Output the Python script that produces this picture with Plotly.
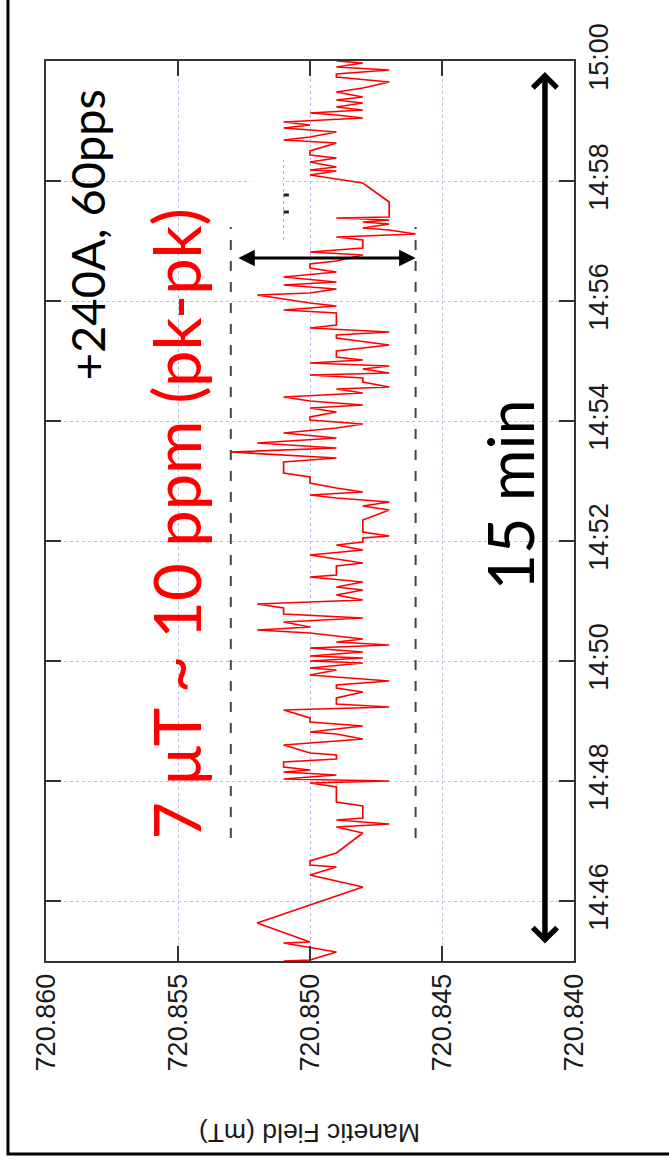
import plotly.graph_objects as go

DAY = "2000-01-01 "

# Magnetometer readings: sample time and field value (mT)
times = [
    "14:45:00", "14:45:01", "14:45:09", "14:45:18", "14:45:19", "14:45:38", "14:46:14", "14:46:26",
    "14:46:34", "14:46:36", "14:46:40", "14:46:48", "14:47:08", "14:47:14", "14:47:17", "14:47:21",
    "14:47:23", "14:47:35", "14:47:39", "14:47:54", "14:47:58", "14:48:00", "14:48:02", "14:48:06",
    "14:48:09", "14:48:11", "14:48:14", "14:48:19", "14:48:22", "14:48:26", "14:48:28", "14:48:36",
    "14:48:38", "14:48:42", "14:48:47", "14:48:49", "14:48:55", "14:48:59", "14:49:03", "14:49:11",
    "14:49:14", "14:49:17", "14:49:23", "14:49:29", "14:49:33", "14:49:36", "14:49:40", "14:49:46",
    "14:49:51", "14:49:53", "14:49:58", "14:50:00", "14:50:03", "14:50:05", "14:50:09", "14:50:13",
    "14:50:16", "14:50:19", "14:50:22", "14:50:28", "14:50:31", "14:50:34", "14:50:39", "14:50:43",
    "14:50:47", "14:50:53", "14:50:57", "14:51:01", "14:51:06", "14:51:11", "14:51:14", "14:51:19",
    "14:51:24", "14:51:26", "14:51:35", "14:51:38", "14:51:46", "14:51:51", "14:51:56", "14:51:59",
    "14:52:03", "14:52:05", "14:52:09", "14:52:21", "14:52:31", "14:52:35", "14:52:39", "14:52:43",
    "14:52:46", "14:52:49", "14:52:53", "14:52:58", "14:53:04", "14:53:08", "14:53:19", "14:53:23",
    "14:53:29", "14:53:33", "14:53:38", "14:53:43", "14:53:48", "14:53:53", "14:53:57", "14:54:01",
    "14:54:04", "14:54:09", "14:54:13", "14:54:16", "14:54:20", "14:54:24", "14:54:28", "14:54:32",
    "14:54:34", "14:54:39", "14:54:43", "14:54:46", "14:54:48", "14:54:52", "14:54:55", "14:54:58",
    "14:55:01", "14:55:04", "14:55:10", "14:55:16", "14:55:23", "14:55:26", "14:55:29", "14:55:33",
    "14:55:36", "14:55:48", "14:55:51", "14:55:55", "14:55:58", "14:56:06", "14:56:08", "14:56:12",
    "14:56:16", "14:56:19", "14:56:24", "14:56:29", "14:56:33", "14:56:37", "14:56:40", "14:56:46",
    "14:56:49", "14:56:53", "14:57:01", "14:57:04", "14:57:07", "14:57:11", "14:57:13", "14:57:17",
    "14:57:19", "14:57:21", "14:57:23", "14:57:24", "14:57:39", "14:57:58", "14:58:02", "14:58:06",
    "14:58:10", "14:58:11", "14:58:14", "14:58:19", "14:58:23", "14:58:26", "14:58:30", "14:58:38",
    "14:58:41", "14:58:44", "14:58:49", "14:58:53", "14:58:56", "14:58:59", "14:59:03", "14:59:06",
    "14:59:08", "14:59:11", "14:59:14", "14:59:18", "14:59:21", "14:59:24", "14:59:29", "14:59:33",
    "14:59:39", "14:59:44", "14:59:47", "14:59:51", "14:59:54", "14:59:58", "15:00:00",
]
field_mT = [
    720.851, 720.850, 720.849, 720.851, 720.850, 720.852, 720.848, 720.850,
    720.849, 720.850, 720.850, 720.849, 720.848, 720.849, 720.847, 720.849,
    720.848, 720.848, 720.849, 720.849, 720.850, 720.847, 720.851, 720.849,
    720.851, 720.850, 720.851, 720.851, 720.849, 720.849, 720.850, 720.851,
    720.850, 720.848, 720.849, 720.850, 720.848, 720.850, 720.850, 720.851,
    720.847, 720.849, 720.849, 720.848, 720.849, 720.849, 720.847, 720.850,
    720.849, 720.850, 720.848, 720.850, 720.848, 720.850, 720.848, 720.850,
    720.847, 720.849, 720.848, 720.850, 720.852, 720.850, 720.851, 720.848,
    720.851, 720.851, 720.852, 720.848, 720.849, 720.848, 720.849, 720.848,
    720.850, 720.849, 720.849, 720.848, 720.850, 720.848, 720.849, 720.848,
    720.848, 720.847, 720.848, 720.848, 720.847, 720.848, 720.847, 720.849,
    720.850, 720.848, 720.849, 720.850, 720.850, 720.851, 720.851, 720.849,
    720.853, 720.849, 720.852, 720.849, 720.851, 720.849, 720.848, 720.850,
    720.850, 720.849, 720.850, 720.848, 720.850, 720.851, 720.848, 720.849,
    720.847, 720.848, 720.848, 720.850, 720.847, 720.848, 720.847, 720.850,
    720.848, 720.849, 720.849, 720.847, 720.849, 720.849, 720.847, 720.850,
    720.849, 720.849, 720.851, 720.849, 720.850, 720.852, 720.850, 720.849,
    720.851, 720.849, 720.851, 720.849, 720.850, 720.850, 720.849, 720.848,
    720.850, 720.848, 720.848, 720.849, 720.846, 720.847, 720.848, 720.847,
    720.848, 720.847, 720.849, 720.847, 720.847, 720.848, 720.849, 720.850,
    720.849, 720.850, 720.849, 720.850, 720.849, 720.850, 720.850, 720.849,
    720.851, 720.850, 720.849, 720.851, 720.850, 720.851, 720.848, 720.849,
    720.850, 720.848, 720.849, 720.848, 720.849, 720.848, 720.849, 720.848,
    720.847, 720.849, 720.849, 720.847, 720.849, 720.848, 720.849,
]

field_ticks = [720.860, 720.855, 720.850, 720.845, 720.840]
field_tick_labels = ["720.860", "720.855", "720.850", "720.845", "720.840"]
time_tick_labels = ["14:46", "14:48", "14:50", "14:52", "14:54", "14:56", "14:58", "15:00"]
time_start, time_end = "14:45:00", "15:00:00"

# peak-to-peak band markers
band_high, band_low = 720.853, 720.846
band_from, band_to = "14:47:03", "14:57:14"
band_arrow_time = "14:56:43"

# full-span arrow
span_x = 720.8411
span_from, span_to = "14:45:16", "14:59:49"

FONT = "Liberation Sans, Arial, sans-serif"
TEXT_FONT = "Lato, Open Sans, sans-serif"

t_full = [DAY + t for t in times]

fig = go.Figure()
fig.add_trace(go.Scatter(
    x=field_mT, y=t_full, mode="lines",
    line=dict(color="#ff0000", width=1.7),
    showlegend=False, hoverinfo="skip",
))

shapes = []
# dashed band limits
for xv in (band_high, band_low):
    shapes.append(dict(type="line", xref="x", yref="y", x0=xv, x1=xv,
                       y0=DAY + band_from, y1=DAY + band_to,
                       line=dict(color="#444444", width=2, dash="10px,11px")))
# remnant of key box
shapes.append(dict(type="rect", xref="x", yref="y", layer="between",
                   x0=720.85224, x1=720.85106, y0=DAY + "14:56:56", y1=DAY + "14:58:31",
                   fillcolor="white", line=dict(width=0)))
shapes.append(dict(type="line", xref="x", yref="y", x0=720.8510, x1=720.8510,
                   y0=DAY + "14:57:01", y1=DAY + "14:58:21",
                   line=dict(color="#aaaaaa", width=1, dash="dot")))
for tm in ("14:57:29", "14:57:46"):
    shapes.append(dict(type="line", xref="x", yref="y", x0=720.8510, x1=720.8508,
                       y0=DAY + tm, y1=DAY + tm, line=dict(color="#222222", width=3)))
# outer frame
shapes.append(dict(type="rect", xref="paper", yref="paper", x0=-0.072, x1=1.4,
                   y0=-0.2144, y1=1.3, line=dict(color="black", width=3)))


def label(x, y, text, size, color, angle=-90, family=TEXT_FONT):
    return dict(x=x, y=y, xref="paper", yref="paper", text=text, textangle=angle,
                xanchor="center", yanchor="middle", showarrow=False,
                font=dict(family=family, size=size, color=color))


annotations = [
    # pk-pk double arrow
    dict(x=band_low, y=DAY + band_arrow_time, ax=band_high, ay=DAY + band_arrow_time,
         xref="x", yref="y", axref="x", ayref="y", text="", showarrow=True,
         arrowside="end+start", arrowhead=2, startarrowhead=2, arrowsize=1.1,
         startarrowsize=1.1, arrowwidth=3, arrowcolor="black", startstandoff=6),
    # 15 minute span arrow
    dict(x=span_x, y=DAY + span_to, ax=span_x, ay=DAY + span_from,
         xref="x", yref="y", axref="x", ayref="y", text="", showarrow=True,
         arrowside="end+start", arrowhead=4, startarrowhead=4, arrowsize=0.85,
         startarrowsize=0.85, arrowwidth=5.5, arrowcolor="black"),
    label(0.247, 0.4856, "7 μT ~ 10 ppm (pk-pk)", 65, "#ff0000"),
    label(0.078, 0.8067, "+240A, 60pps", 47, "black"),
    label(0.878, 0.5178, "15 min", 63, "black"),
    label(0.498, -0.191, "Manetic Field (mT)", 26.5, "#1a1a1a", angle=180, family=FONT),
]

axis_common = dict(
    ticks="inside", ticklen=15, tickwidth=2, tickcolor="#333333",
    showline=True, linecolor="#333333", linewidth=2, mirror="ticks",
    showgrid=True, gridcolor="#b8b8ff", griddash="dot", gridwidth=1,
    zeroline=False, tickfont=dict(family=FONT, size=27, color="#1a1a1a"),
    tickangle=-90,
)

fig.update_layout(
    width=669, height=1165,
    margin=dict(l=46, r=95, t=61, b=204),
    paper_bgcolor="white", plot_bgcolor="white",
    xaxis=dict(range=[field_ticks[0], field_ticks[-1]], tickvals=field_ticks,
               ticktext=field_tick_labels, **axis_common),
    yaxis=dict(type="date", range=[DAY + time_start, DAY + time_end], side="right",
               tickvals=[DAY + t for t in time_tick_labels], ticktext=time_tick_labels,
               **axis_common),
    shapes=shapes,
    annotations=annotations,
    showlegend=False,
)

fig.write_html("out.html")
